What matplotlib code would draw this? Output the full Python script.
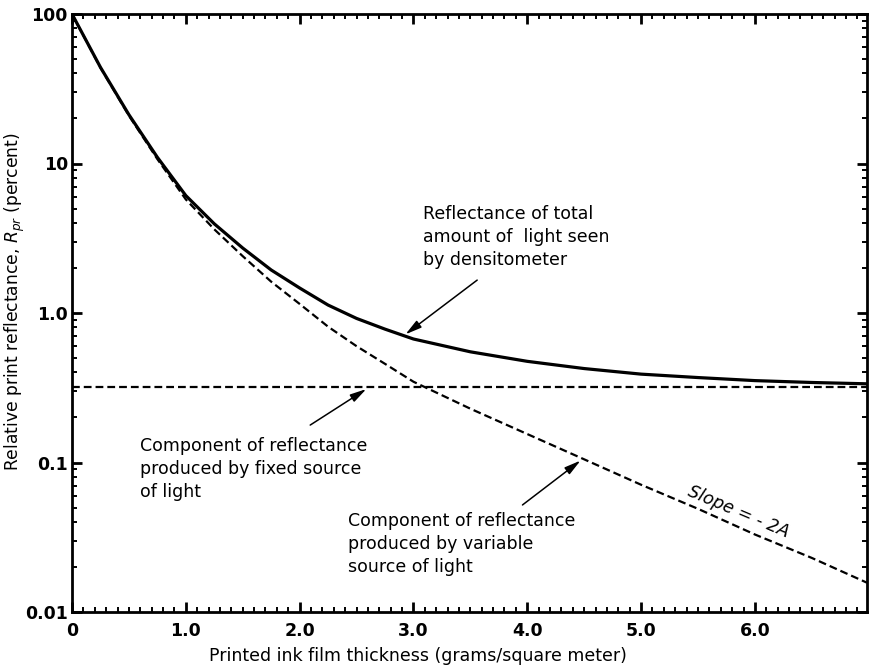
import matplotlib
matplotlib.use("Agg")
import matplotlib.pyplot as plt
from matplotlib.ticker import FixedLocator, FixedFormatter, MultipleLocator, LogLocator, NullFormatter

# Ink film thickness (g/m^2) and reflectance components (percent)
thickness = [0.0, 0.25, 0.5, 0.75, 1.0, 1.25, 1.5, 1.75, 2.0, 2.25, 2.5, 2.75,
             3.0, 3.5, 4.0, 4.5, 5.0, 5.5, 6.0, 6.5, 6.985]
variable_component = [100, 43.7, 20.9, 10.7, 5.75, 3.63, 2.40, 1.62, 1.15, 0.81,
                      0.60, 0.457, 0.347, 0.229, 0.155, 0.105, 0.071, 0.049,
                      0.033, 0.023, 0.0157]
total_reflectance = [100, 44.0, 21.2, 11.0, 6.1, 3.95, 2.72, 1.94, 1.47, 1.13,
                     0.92, 0.78, 0.67, 0.55, 0.475, 0.425, 0.39, 0.37, 0.353,
                     0.343, 0.336]
fixed_component = 0.32

x_ticks = [0, 1, 2, 3, 4, 5, 6]
x_tick_labels = ["0", "1.0", "2.0", "3.0", "4.0", "5.0", "6.0"]
y_ticks = [0.01, 0.1, 1, 10, 100]
y_tick_labels = ["0.01", "0.1", "1.0", "10", "100"]

plt.rcParams['font.family'] = ['DejaVu Sans']
plt.rcParams['mathtext.fontset'] = 'dejavusans'

W, H = 872, 670
fig = plt.figure(figsize=(W / 100, H / 100), dpi=100)
ax = fig.add_axes([72 / W, 1 - 612 / H, 795 / W, 598 / H])
ax.set_yscale('log')
ax.set_xlim(0, 6.985)
ax.set_ylim(0.01, 100)

dash = (0, (3.5, 1.8))
ax.plot(thickness, total_reflectance, color='black', lw=2.3, solid_capstyle='round')
ax.plot(thickness, variable_component, color='black', lw=1.6, linestyle=dash)
ax.axhline(fixed_component, color='black', lw=1.6, linestyle=dash)

# Axes frame and ticks
for sp in ax.spines.values():
    sp.set_linewidth(2.0)
ax.xaxis.set_major_locator(FixedLocator(x_ticks))
ax.xaxis.set_major_formatter(FixedFormatter(x_tick_labels))
ax.xaxis.set_minor_locator(MultipleLocator(0.1))
ax.yaxis.set_major_locator(FixedLocator(y_ticks))
ax.yaxis.set_major_formatter(FixedFormatter(y_tick_labels))
ax.yaxis.set_minor_locator(LogLocator(base=10, subs=range(2, 10), numticks=20))
ax.yaxis.set_minor_formatter(NullFormatter())
ax.tick_params(which='both', direction='in', top=True, right=True, color='black')
ax.tick_params(which='major', length=7, width=2.0)
ax.tick_params(which='minor', length=3.5, width=1.4)
ax.tick_params(axis='x', which='major', pad=7, labelsize=12.5)
ax.tick_params(axis='y', which='major', pad=3, labelsize=12.5)
for lab in ax.get_xticklabels() + ax.get_yticklabels():
    lab.set_fontweight('bold')

ax.set_xlabel("Printed ink film thickness (grams/square meter)", fontsize=12.5)
ax.xaxis.set_label_coords(0.435, -0.058)
ax.set_ylabel(r"Relative print reflectance, $\mathit{R_{pr}}$ (percent)", fontsize=12.3)
ax.yaxis.set_label_coords(-0.057, 0.518)

txt = dict(fontsize=12.5, ha='left', va='top', linespacing=1.35)
arrow = dict(arrowstyle='-|>,head_length=0.7,head_width=0.18', lw=1.1,
             color='black', shrinkA=0, shrinkB=0, mutation_scale=14)

ax.text(3.08, 5.27, "Reflectance of total\namount of  light seen\nby densitometer", **txt)
ax.annotate('', xy=(2.93, 0.72), xytext=(3.56, 1.66), arrowprops=arrow)

ax.text(0.598, 0.148, "Component of reflectance\nproduced by fixed source\nof light", **txt)
ax.annotate('', xy=(2.586, 0.31), xytext=(2.093, 0.178), arrowprops=arrow)

ax.text(2.427, 0.0467, "Component of reflectance\nproduced by variable\nsource of light", **txt)
ax.annotate('', xy=(4.468, 0.103), xytext=(3.958, 0.052), arrowprops=arrow)

ax.text(5.857, 0.0467, "Slope = - 2A", fontsize=12.5, style='italic',
        rotation=-23, rotation_mode='anchor', ha='center', va='center')

fig.savefig("out.png", dpi=100)
